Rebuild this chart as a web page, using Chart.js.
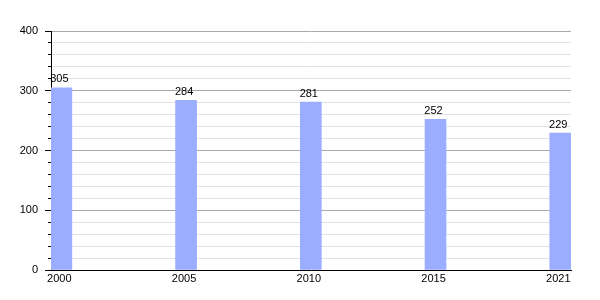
<!DOCTYPE html>
<html>
<head>
<meta charset="utf-8">
<script src="https://cdn.jsdelivr.net/npm/chart.js@4/dist/chart.umd.min.js"></script>
<style>
  html, body { margin: 0; padding: 0; background: #fff; }
</style>
</head>
<body>
<canvas id="chart" width="600" height="300"></canvas>
<script>
// data
const years = ["2000", "2005", "2010", "2015", "2021"];
const values = [305, 284, 281, 252, 229];
const yMin = 0;
const yMax = 400;
const yStep = 20;
const yMajor = 100;

// draw the number above each bar
const valueLabels = {
  id: "valueLabels",
  afterDatasetsDraw(chart) {
    const ctx = chart.ctx;
    const meta = chart.getDatasetMeta(0);
    ctx.save();
    ctx.font = "11px 'Liberation Sans', Arial, sans-serif";
    ctx.fillStyle = "#000";
    ctx.textAlign = "center";
    ctx.textBaseline = "bottom";
    meta.data.forEach((bar, i) => {
      ctx.fillText(String(values[i]), bar.x - 2, bar.y - 3);
    });
    ctx.restore();
  },
};

new Chart(document.getElementById("chart"), {
  type: "bar",
  data: {
    datasets: [
      {
        data: values.map((v, i) => ({ x: i, y: v })),
        backgroundColor: "#9badff",
        barThickness: 21,
      },
    ],
  },
  options: {
    responsive: false,
    animation: false,
    devicePixelRatio: 1,
    layout: { padding: { top: 31, right: 29, left: 0, bottom: 0 } },
    plugins: {
      legend: { display: false },
      tooltip: { enabled: false },
    },
    scales: {
      x: {
        type: "linear",
        offset: false,
        min: -0.083,
        max: 4.086,
        afterBuildTicks: (scale) => {
          scale.ticks = years.map((_, i) => ({ value: i }));
        },
        afterFit: (scale) => {
          scale.height = 30;
        },
        ticks: {
          color: "#000",
          font: { family: "'Liberation Sans', Arial, sans-serif", size: 11 },
          padding: 2,
          labelOffset: -2,
          maxRotation: 0,
          autoSkip: false,
          callback: (v) => years[v],
        },
        grid: { display: false, drawTicks: false },
        border: { display: true, color: "#000", width: 1 },
      },
      y: {
        min: yMin,
        max: yMax,
        afterFit: (scale) => {
          scale.width = 51;
        },
        ticks: {
          stepSize: yStep,
          autoSkip: false,
          color: "#000",
          padding: 7,
          font: { family: "'Liberation Sans', Arial, sans-serif", size: 11 },
          callback: (v) => (v % yMajor === 0 ? String(v) : ""),
        },
        grid: {
          color: (c) => (c.tick && c.tick.value % yMajor === 0 ? "#a8a8a8" : "#e2e2e2"),
          tickColor: "#000",
          tickLength: 6,
          tickBorderDash: (c) => (c.tick && c.tick.value % yMajor === 0 ? [] : [0, 3, 10]),
        },
        border: { display: true, color: "#000", width: 1 },
      },
    },
  },
  plugins: [valueLabels],
});
</script>
</body>
</html>
